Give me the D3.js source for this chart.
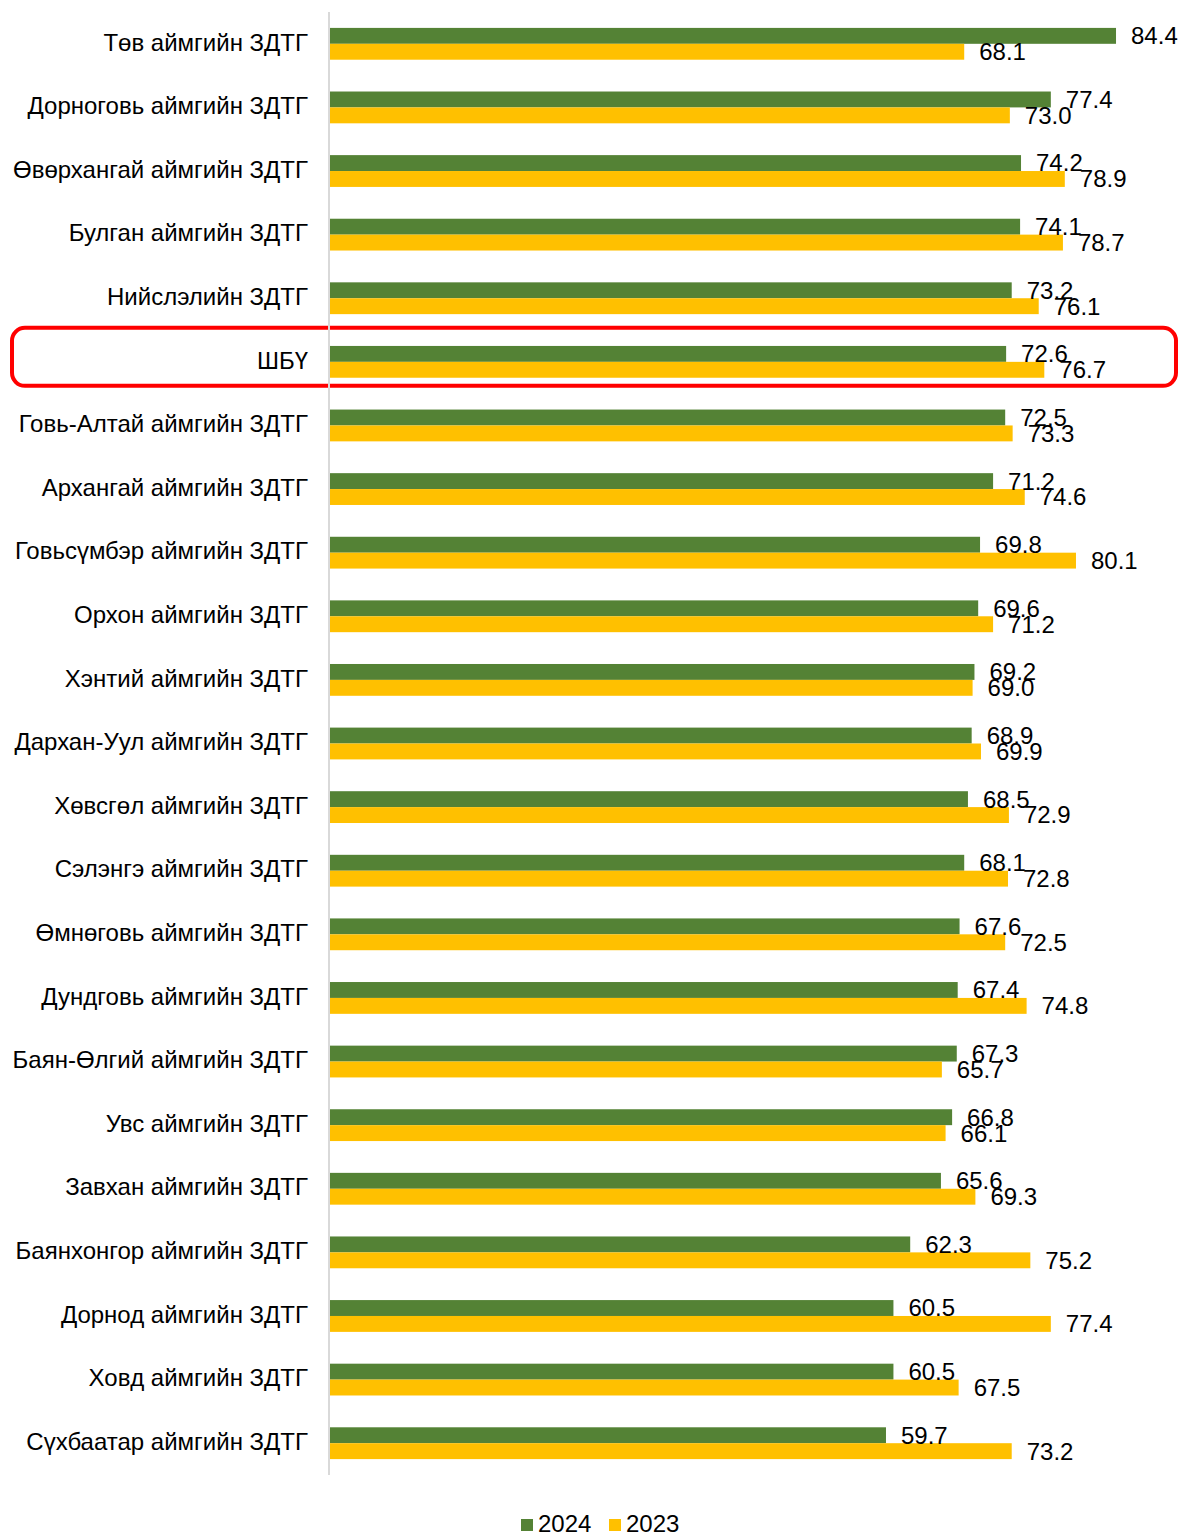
<!DOCTYPE html>
<html>
<head>
<meta charset="utf-8">
<script src="https://cdn.jsdelivr.net/npm/d3@7.9.0/dist/d3.min.js"></script>
<style>
  body { margin: 0; background: #fff; }
  text { font-family: "Liberation Sans", Arial, sans-serif; fill: #000; }
</style>
</head>
<body>
<div id="chart"></div>
<script>
const categories = [
  "Төв аймгийн ЗДТГ", "Дорноговь аймгийн ЗДТГ", "Өвөрхангай аймгийн ЗДТГ",
  "Булган аймгийн ЗДТГ", "Нийслэлийн ЗДТГ", "ШБҮ", "Говь-Алтай аймгийн ЗДТГ",
  "Архангай аймгийн ЗДТГ", "Говьсүмбэр аймгийн ЗДТГ", "Орхон аймгийн ЗДТГ",
  "Хэнтий аймгийн ЗДТГ", "Дархан-Уул аймгийн ЗДТГ", "Хөвсгөл аймгийн ЗДТГ",
  "Сэлэнгэ аймгийн ЗДТГ", "Өмнөговь аймгийн ЗДТГ", "Дундговь аймгийн ЗДТГ",
  "Баян-Өлгий аймгийн ЗДТГ", "Увс аймгийн ЗДТГ", "Завхан аймгийн ЗДТГ",
  "Баянхонгор аймгийн ЗДТГ", "Дорнод аймгийн ЗДТГ", "Ховд аймгийн ЗДТГ",
  "Сүхбаатар аймгийн ЗДТГ"
];
const values2024 = [84.4, 77.4, 74.2, 74.1, 73.2, 72.6, 72.5, 71.2, 69.8, 69.6, 69.2, 68.9,
  68.5, 68.1, 67.6, 67.4, 67.3, 66.8, 65.6, 62.3, 60.5, 60.5, 59.7];
const values2023 = [68.1, 73.0, 78.9, 78.7, 76.1, 76.7, 73.3, 74.6, 80.1, 71.2, 69.0, 69.9,
  72.9, 72.8, 72.5, 74.8, 65.7, 66.1, 69.3, 75.2, 77.4, 67.5, 73.2];
const seriesNames = ["2024", "2023"];
const highlighted = "ШБҮ";

const colors = { "2024": "#548235", "2023": "#FFC000" };

const width = 1181;
const height = 1533;
const plotLeft = 330;
const plotTop = 12;
const plotBottom = 1475;

const rows = categories.map((c, i) => ({
  name: c,
  values: [
    { key: "2024", value: values2024[i] },
    { key: "2023", value: values2023[i] }
  ]
}));

const svg = d3.select("#chart").append("svg")
  .attr("width", width)
  .attr("height", height);

const x = d3.scaleLinear().domain([0, 90]).range([plotLeft, plotLeft + 90 * 9.313]);

const y = d3.scaleBand()
  .domain(categories)
  .range([plotTop, plotBottom])
  .paddingInner(0.5)
  .paddingOuter(0.25);

const ySub = d3.scaleBand()
  .domain(seriesNames)
  .range([0, y.bandwidth()]);

// highlight box around ШБҮ
svg.append("rect")
  .attr("x", 12)
  .attr("y", y(highlighted) + y.bandwidth() / 2 - 34)
  .attr("width", 1164)
  .attr("height", 58)
  .attr("rx", 13)
  .attr("fill", "none")
  .attr("stroke", "#ff0000")
  .attr("stroke-width", 4);

const groups = svg.append("g").selectAll("g")
  .data(rows)
  .join("g")
  .attr("transform", d => `translate(0,${y(d.name)})`);

groups.selectAll("rect")
  .data(d => d.values)
  .join("rect")
  .attr("x", x(0))
  .attr("y", d => ySub(d.key))
  .attr("width", d => x(d.value) - x(0))
  .attr("height", ySub.bandwidth())
  .attr("fill", d => colors[d.key]);

groups.selectAll("text.val")
  .data(d => d.values)
  .join("text")
  .attr("class", "val")
  .attr("x", d => x(d.value) + 15)
  .attr("y", d => ySub(d.key) + ySub.bandwidth() / 2)
  .attr("dy", "0.35em")
  .style("font-size", "24px")
  .text(d => d3.format(".1f")(d.value));

// category axis
const yAxis = svg.append("g")
  .attr("transform", `translate(${plotLeft - 1},0)`)
  .call(d3.axisLeft(y).tickSize(0).tickPadding(21));
yAxis.select(".domain")
  .attr("d", `M0,${plotTop}V${plotBottom}`)
  .attr("stroke", "#d9d9d9")
  .attr("stroke-width", 2);
yAxis.selectAll("text")
  .style("font-size", "24px")
  .style("font-family", "'Liberation Sans', Arial, sans-serif")
  .attr("dy", "0.28em");

// legend
const legend = svg.append("g").attr("transform", "translate(521,1519)");
const items = legend.selectAll("g")
  .data(seriesNames)
  .join("g")
  .attr("transform", (d, i) => `translate(${i * 88},0)`);
items.append("rect")
  .attr("width", 12)
  .attr("height", 12)
  .attr("fill", d => colors[d]);
items.append("text")
  .attr("x", 17)
  .attr("y", 13)
  .style("font-size", "24px")
  .text(d => d);
</script>
</body>
</html>
